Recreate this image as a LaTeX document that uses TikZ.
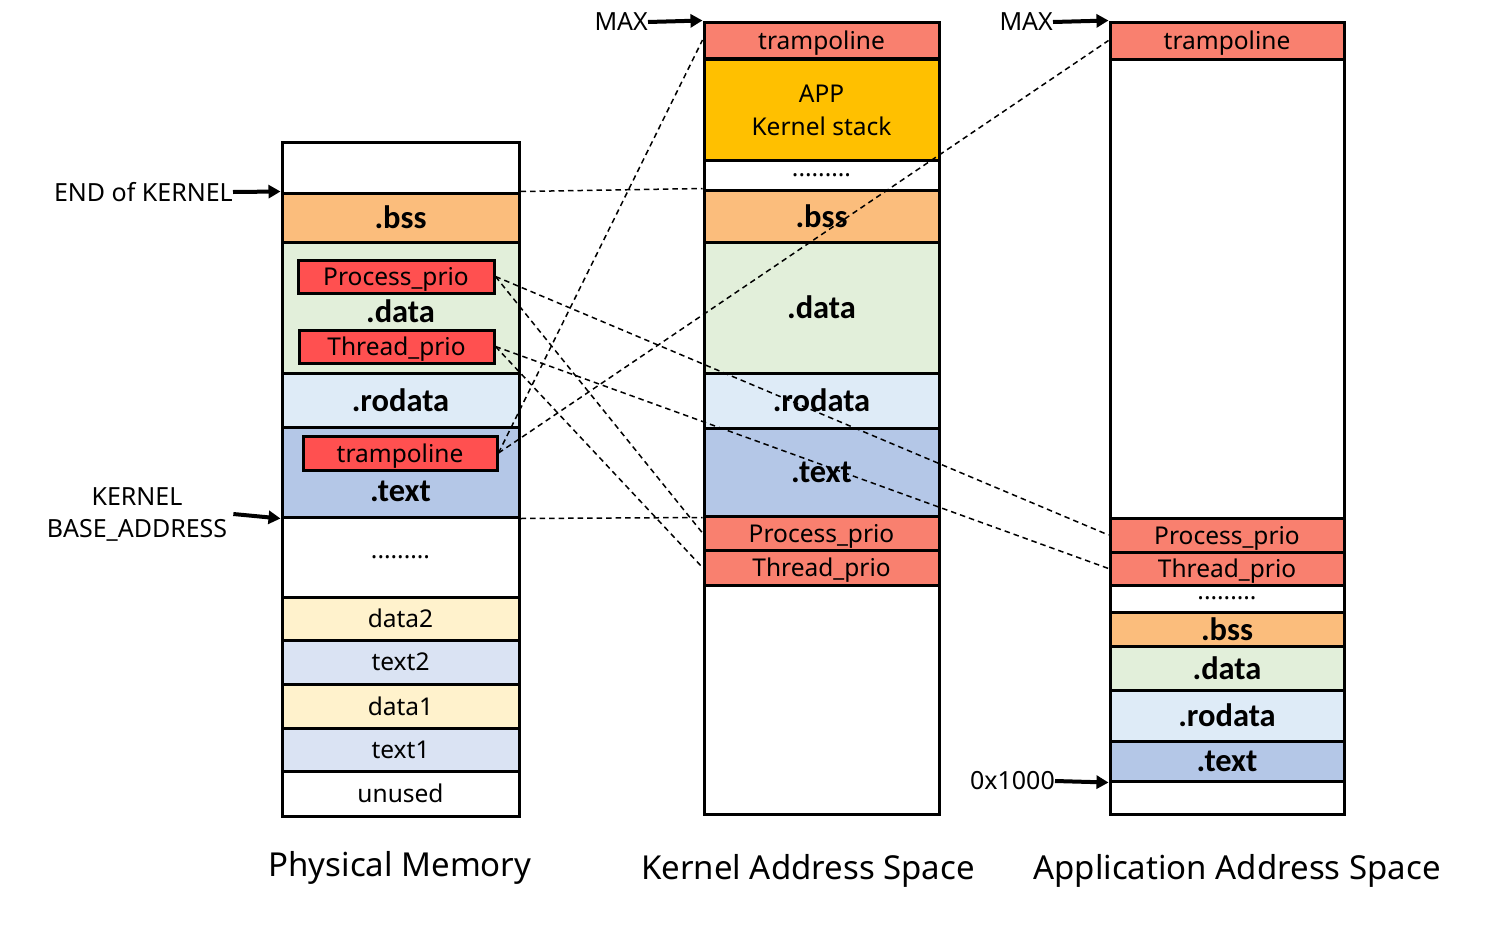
\documentclass[tikz,border=0pt]{standalone}
\usepackage{fontspec}
\setmainfont{Noto Sans}
\newfontfamily\secfont{Carlito}
\usetikzlibrary{arrows.meta}
\definecolor{bsscol}{HTML}{FBBD7C}
\definecolor{datacol}{HTML}{E2EFDA}
\definecolor{rodatacol}{HTML}{DEEBF7}
\definecolor{textcol}{HTML}{B4C7E7}
\definecolor{varcol}{HTML}{FF5050}
\definecolor{mapcol}{HTML}{F9806F}
\definecolor{stackcol}{HTML}{FFC000}
\definecolor{udatacol}{HTML}{FFF2CC}
\definecolor{utextcol}{HTML}{DAE3F3}

\begin{document}
\begin{tikzpicture}[x=1pt, y=-1pt,
    seg/.style={draw, line width=3pt, inner sep=0pt, text depth=0pt, font=\fontsize{24.5}{28}\selectfont},
    phys/.style={seg, minimum width=237pt},
    kern/.style={seg, minimum width=235pt},
    app/.style={seg, minimum width=234pt},
    secname/.style={font=\fontsize{32.5}{34}\secfont\bfseries},
    var/.style={draw, line width=3pt, fill=varcol, inner sep=0pt, text depth=0pt, minimum height=33pt, font=\fontsize{24.5}{28}\selectfont},
    link/.style={line width=1.5pt, dash pattern=on 5.5pt off 4pt},
    ptr/.style={line width=4pt, -{Triangle[length=12pt,width=13pt]}},
    tag/.style={font=\fontsize{25}{32}\selectfont, inner sep=0pt},
    heading/.style={font=\fontsize{33}{38}\selectfont}]
    \useasboundingbox (0,0) rectangle (1486,924);

    \node[phys, fill=white, minimum height=51pt] (ptop) at (400.5,167.5) {};
    \node[phys, secname, fill=bsscol, minimum height=49pt] (pbss) at (400.5,217.5) {.bss};
    \node[phys, fill=datacol, minimum height=131pt] (pdata) at (400.5,307.5) {};
    \node[phys, secname, fill=rodatacol, minimum height=54pt] (prodata) at (400.5,400) {.rodata};
    \node[phys, fill=textcol, minimum height=90pt] (ptext) at (400.5,472) {};
    \node[phys, fill=white, minimum height=80pt] (pgap) at (400.5,557) {.........};
    \node[phys, fill=udatacol, minimum height=43pt] (pdata2) at (400.5,618.5) {data2};
    \node[phys, fill=utextcol, minimum height=44pt] (ptext2) at (400.5,662) {text2};
    \node[phys, fill=udatacol, minimum height=44pt] (pdata1) at (400.5,706) {data1};
    \node[phys, fill=utextcol, minimum height=43pt] (ptext1) at (400.5,749.5) {text1};
    \node[phys, fill=white, minimum height=45pt] (punused) at (400.5,793.5) {unused};
    \node[secname] (pdatalbl) at (400.5,311) {.data};
    \node[secname] (ptextlbl) at (400.5,491) {.text};
    \node[var, minimum width=196pt] (pproc) at (396,276.5) {Process\_prio};
    \node[var, minimum width=195pt] (pthread) at (396.5,346.5) {Thread\_prio};
    \node[var, minimum width=194pt, minimum height=34pt] (ptramp) at (400,453) {trampoline};

    \node[kern, fill=mapcol, minimum height=36pt] (ktramp) at (821.5,40) {trampoline};
    \node[kern, fill=stackcol, minimum height=102pt, align=center, font=\fontsize{24.5}{33}\selectfont] (kstack) at (821.5,110) {APP\\Kernel stack};
    \node[kern, fill=white, minimum height=30pt] (kgap) at (821.5,175) {.........};
    \node[kern, secname, fill=bsscol, minimum height=52pt] (kbss) at (821.5,216) {.bss};
    \node[kern, secname, fill=datacol, minimum height=131pt] (kdata) at (821.5,307.5) {.data};
    \node[kern, secname, fill=rodatacol, minimum height=55pt] (krodata) at (821.5,400.5) {.rodata};
    \node[kern, secname, fill=textcol, minimum height=88pt] (ktext) at (821.5,472) {.text};
    \node[kern, fill=mapcol, minimum height=34pt] (kproc) at (821.5,533) {Process\_prio};
    \node[kern, fill=mapcol, minimum height=35pt] (kthread) at (821.5,567.5) {Thread\_prio};
    \node[kern, fill=white, minimum height=229pt] (kfree) at (821.5,699.5) {};

    \node[app, fill=mapcol, minimum height=37pt] (atramp) at (1227,40.5) {trampoline};
    \node[app, fill=white, minimum height=459pt] (afree) at (1227,288.5) {};
    \node[app, fill=mapcol, minimum height=34pt] (aproc) at (1227,535) {Process\_prio};
    \node[app, fill=mapcol, minimum height=33pt] (athread) at (1227,568.5) {Thread\_prio};
    \node[app, fill=white, minimum height=27pt] (agap) at (1227,598.5) {.........};
    \node[app, secname, fill=bsscol, minimum height=34pt] (abss) at (1227,629) {.bss};
    \node[app, secname, fill=datacol, minimum height=44pt] (adata) at (1227,668) {.data};
    \node[app, secname, fill=rodatacol, minimum height=51pt] (arodata) at (1227,715.5) {.rodata};
    \node[app, secname, fill=textcol, minimum height=40pt] (atext) at (1227,761) {.text};
    \node[app, fill=white, minimum height=33pt] (abottom) at (1227,797.5) {};

    \draw[link] (pbss.north east) -- (kbss.north west);
    \draw[link] (ptext.south east) -- (ktext.south west);
    \draw[link] (pproc.east) -- (kproc.west);
    \draw[link] (pproc.east) -- (aproc.west);
    \draw[link] (pthread.east) -- (kthread.west);
    \draw[link] (pthread.east) -- (athread.west);
    \draw[link] (ptramp.east) -- (ktramp.west);
    \draw[link] (ptramp.east) -- (atramp.west);

    \node[tag, anchor=east] (endk) at (233,192) {END of KERNEL};
    \node[tag, align=center] (kbase) at (137,514) {KERNEL\\BASE\_ADDRESS};
    \node[tag, anchor=east] (kmax) at (648,22) {MAX};
    \node[tag, anchor=east] (amax) at (1053,22) {MAX};
    \node[tag, anchor=east] (abase) at (1055,781) {0x1000};
    \draw[ptr] (endk.east) -- (pbss.north west);
    \draw[ptr] ([xshift=6pt]kbase.east) -- (ptext.south west);
    \draw[ptr] (kmax.east) -- (ktramp.north west);
    \draw[ptr] (amax.east) -- (atramp.north west);
    \draw[ptr] (abase.east) -- (atext.south west);

    \node[heading] (phystitle) at (400,868) {Physical Memory};
    \node[heading] (kerntitle) at (808,871) {Kernel Address Space};
    \node[heading] (apptitle) at (1237,871) {Application Address Space};
\end{tikzpicture}
\end{document}
